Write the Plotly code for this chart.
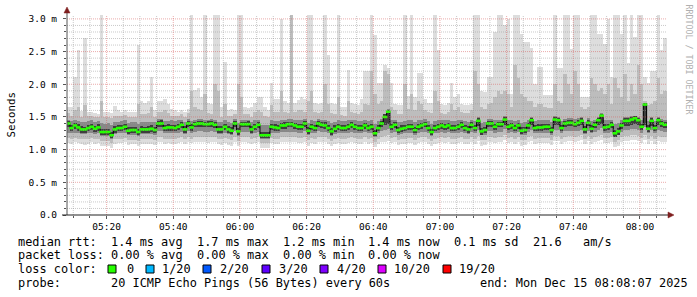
import plotly.graph_objects as go
import pandas as pd

# ---------------- data (values in 1/100 ms) ----------------
bucket_start = "2025-12-15 05:08:00"
view_start = "2025-12-15 05:08:07"
view_end = "2025-12-15 08:08:07"

median = [140,133,137,134,131,131,133,135,132,134,
          127,127,127,122,131,133,133,135,129,130,
          130,127,131,131,131,132,130,140,140,133,
          134,134,133,135,138,131,140,134,139,140,
          140,139,139,140,138,131,131,135,131,129,
          140,128,139,139,139,131,135,138,122,122,
          122,135,134,133,137,137,139,139,137,135,
          135,140,129,135,133,140,138,137,133,128,
          132,135,133,133,135,138,135,133,133,137,
          133,135,125,133,140,150,158,135,138,130,
          132,133,135,135,130,135,137,139,133,127,
          133,135,137,135,137,133,133,135,138,133,
          131,138,133,144,128,130,140,140,135,139,
          139,146,135,137,133,137,129,130,137,145,
          133,134,134,135,135,130,146,145,133,140,
          141,141,139,141,144,131,141,132,138,145,
          152,134,135,138,125,128,137,144,144,146,
          148,145,135,169,132,144,133,145,140,138]

ping_max = [165,165,211,253,159,271,158,158,156,155,
            306,157,157,156,167,160,158,160,158,158,
            158,260,175,172,175,211,160,175,175,178,
            170,162,160,158,160,158,162,306,191,195,
            180,306,172,170,306,306,165,234,160,162,
            160,306,306,165,163,165,172,180,180,165,
            160,202,178,178,300,175,172,306,172,176,
            180,178,306,306,172,170,172,306,245,172,
            170,306,165,165,222,172,170,168,178,220,
            220,306,275,202,202,230,225,202,170,168,
            168,306,182,306,180,217,217,178,172,172,
            306,253,170,168,172,202,180,185,170,168,
            168,170,306,306,190,188,211,211,280,306,
            306,290,300,185,306,306,277,265,265,255,
            200,227,227,184,184,184,306,225,225,306,
            306,254,306,306,181,181,181,306,306,277,
            277,262,300,211,306,306,277,306,232,306,
            273,306,306,211,202,220,220,306,253,271]

ping_hi = [156,152,160,165,150,168,151,152,150,150,
           175,150,150,148,152,152,151,153,150,150,
           150,170,155,154,156,165,150,158,157,160,
           156,152,151,152,154,150,156,190,165,162,
           160,185,156,154,200,190,150,170,152,151,
           155,200,180,155,154,150,158,160,158,152,
           150,168,158,158,190,157,156,306,158,160,
           160,158,175,190,158,156,158,200,170,156,
           155,180,153,152,175,158,156,155,158,170,
           168,220,185,170,175,220,215,165,160,155,
           155,200,162,185,160,175,170,160,158,156,
           190,175,156,155,158,170,160,165,158,156,
           156,160,220,200,165,162,170,172,180,190,
           185,190,185,165,230,210,185,180,175,175,
           165,170,170,165,163,163,200,175,172,215,
           200,185,220,200,165,162,165,210,200,190,
           195,185,200,170,210,195,180,215,175,200,
           185,230,200,175,168,170,175,210,185,190]

core_hi = [146,144,145,144,143,142,144,145,143,144,
           141,140,141,138,142,143,144,145,141,142,
           142,140,142,142,143,143,142,147,147,144,
           144,145,144,145,146,142,147,144,146,147,
           147,146,146,147,146,142,142,145,142,141,
           147,141,146,146,146,142,145,146,138,137,
           138,145,144,144,146,146,147,147,146,145,
           145,147,141,145,144,147,146,146,144,141,
           143,145,144,144,145,146,145,144,144,146,
           144,145,140,144,147,155,162,146,146,142,
           143,144,145,145,142,145,146,147,144,140,
           144,145,146,145,146,144,144,145,146,144,
           143,146,144,150,141,142,147,147,145,146,
           146,151,145,146,144,146,141,142,146,150,
           144,145,145,145,145,142,151,150,144,147,
           148,148,147,148,150,143,148,144,146,150,
           156,145,145,146,140,141,146,150,150,151,
           152,150,145,172,144,150,144,150,147,146]

inner_hi = [144,138,141,139,136,135,138,140,136,139,
            132,131,132,127,136,138,137,140,134,135,
            135,132,136,135,136,137,135,144,145,138,
            139,138,138,140,142,136,144,139,143,144,
            144,143,144,144,142,136,136,140,136,134,
            144,133,143,143,144,136,140,142,127,127,
            127,140,139,138,141,142,143,143,141,140,
            140,144,134,140,138,144,142,142,138,133,
            137,140,138,138,140,142,140,138,138,141,
            138,140,130,138,144,154,161,140,142,135,
            137,138,140,140,135,140,141,143,138,132,
            138,140,141,140,141,138,138,140,142,138,
            136,142,138,148,133,135,144,144,140,143,
            143,150,140,141,138,141,134,135,141,149,
            138,139,139,140,140,135,150,149,138,144,
            145,145,143,145,148,136,145,137,142,149,
            155,139,140,142,130,133,141,148,148,150,
            151,149,140,171,137,148,138,149,144,142]

inner_lo = [135,128,132,129,126,126,128,130,127,129,
            122,123,122,118,126,128,128,130,124,125,
            125,122,126,126,126,127,125,135,134,128,
            129,129,128,130,133,126,135,129,134,135,
            135,134,134,135,133,126,126,130,126,124,
            135,123,134,134,134,126,130,133,118,118,
            118,130,129,128,132,132,134,134,132,130,
            130,135,124,130,128,135,133,132,128,123,
            127,130,128,128,130,133,130,128,128,132,
            128,130,121,128,135,138,140,130,133,125,
            127,128,130,130,125,130,132,134,128,122,
            128,130,132,130,132,128,128,130,133,128,
            126,133,128,136,123,125,135,135,130,134,
            134,138,130,132,128,132,124,125,132,137,
            128,129,129,130,130,125,138,137,128,135,
            136,136,134,136,138,126,136,127,133,137,
            140,129,130,133,120,123,132,136,136,138,
            140,137,130,138,127,136,128,137,135,133]

core_lo = [126,125,126,125,124,124,125,126,124,125,
           121,121,121,117,124,125,125,126,122,123,
           123,121,124,124,124,124,123,128,128,125,
           125,125,125,126,127,124,128,125,127,128,
           128,127,127,128,127,124,124,126,124,122,
           128,121,127,127,127,124,126,127,117,117,
           117,126,125,125,127,127,127,127,127,126,
           126,128,122,126,125,128,127,127,125,121,
           124,126,125,125,126,127,126,125,125,127,
           125,126,120,125,128,130,132,126,127,123,
           124,125,126,126,123,126,127,127,125,121,
           125,126,127,126,127,125,125,126,127,125,
           124,127,125,130,122,123,128,128,126,127,
           127,131,126,127,125,127,122,123,127,130,
           125,126,126,126,126,123,130,130,125,128,
           129,129,128,129,130,124,129,125,127,130,
           133,126,126,127,120,122,127,130,130,131,
           132,130,126,134,125,130,125,130,128,127]

ping_lo = [118,117,118,117,116,116,117,118,116,117,
           113,113,113,110,116,117,117,118,114,115,
           115,113,116,116,116,116,115,120,120,117,
           117,117,117,118,119,116,120,117,119,120,
           120,119,119,120,119,116,116,118,116,114,
           120,113,119,119,119,116,118,119,110,110,
           110,118,117,117,119,119,119,119,119,118,
           118,120,114,118,117,120,119,119,117,113,
           116,118,117,117,118,119,118,117,117,119,
           117,118,112,117,120,121,122,118,119,115,
           116,117,118,118,115,118,119,119,117,113,
           117,118,119,118,119,117,117,118,119,117,
           116,119,117,121,114,115,120,120,118,119,
           119,122,118,119,117,119,114,115,119,121,
           117,118,118,118,118,115,121,121,117,120,
           121,121,120,121,122,116,121,117,119,121,
           123,118,118,119,112,114,119,121,121,122,
           122,121,118,123,117,121,117,121,120,119]

ping_min = [110,109,111,110,108,107,109,111,108,110,
            106,105,106,102,108,110,110,111,107,108,
            108,105,109,108,109,108,107,112,112,109,
            110,109,109,110,112,108,112,110,111,112,
            112,111,110,112,111,108,107,110,107,105,
            112,105,111,111,110,108,110,111,103,102,
            103,110,109,109,111,111,111,112,111,110,
            110,112,106,110,109,112,111,111,109,105,
            108,110,109,109,110,111,110,109,109,111,
            109,110,104,109,112,112,113,110,111,107,
            108,109,110,110,107,110,111,111,109,105,
            109,110,111,110,111,109,109,110,111,109,
            108,111,109,113,106,107,112,112,110,111,
            111,114,110,111,109,111,106,107,111,113,
            109,110,110,110,110,107,113,113,109,112,
            113,113,112,113,114,108,113,109,111,113,
            115,110,110,111,104,106,111,113,113,114,
            114,113,110,115,109,113,109,113,112,111]

y_tick_vals = [0.0, 0.5, 1.0, 1.5, 2.0, 2.5, 3.0]
y_tick_text = ["0.0", "0.5 m", "1.0 m", "1.5 m", "2.0 m", "2.5 m", "3.0 m"]

# legend rows: (character column, text)
legend_row1 = [(0, "median rtt:"), (13, "1.4 ms avg"), (25, "1.7 ms max"), (37, "1.2 ms min"),
               (49, "1.4 ms now"), (61, "0.1 ms sd"), (72, "21.6"), (79, "am/s")]
legend_row2 = [(0, "packet loss:"), (13, "0.00 % avg"), (25, "0.00 % max"), (37, "0.00 % min"),
               (49, "0.00 % now")]
legend_row3 = [(0, "loss color:")]
legend_row4 = [(0, "probe:"), (13, "20 ICMP Echo Pings (56 Bytes) every 60s")]
end_text = "end: Mon Dec 15 08:08:07 2025"
loss_labels = ["0", "1/20", "2/20", "3/20", "4/20", "10/20", "19/20"]
loss_colors = ["#26ff00", "#00b8ff", "#0059ff", "#5e00ff", "#7e00ff", "#dd00ff", "#ff0000"]

# ---------------- layout geometry ----------------
W, H = 697, 297
L, R, T, B = 67, 30, 15, 82
PW, PH = W - L - R, H - T - B
Y_MAX = 3.06
CHAR_W = 7.15


def px(x):
    return (x - L) / PW


def py(y):
    return (H - B - y) / PH


n = len(median)
t0 = pd.Timestamp(bucket_start)
starts = [t0 + pd.Timedelta(minutes=i) for i in range(n)]
centers = [s + pd.Timedelta(seconds=30) for s in starts]


def ms(v):
    return [a / 100.0 for a in v]


def band(lo, hi, color):
    return go.Bar(x=centers, base=ms(lo), y=[(h - l) / 100.0 for l, h in zip(lo, hi)],
                  width=60000, marker=dict(color=color, line=dict(width=0)),
                  hoverinfo="skip", showlegend=False)


fig = go.Figure()
fig.add_trace(band(ping_min, ping_max, "#dddddd"))
fig.add_trace(band(ping_lo, ping_hi, "#bdbdbd"))
fig.add_trace(band(core_lo, core_hi, "#888888"))
fig.add_trace(band(inner_lo, inner_hi, "#3e3e3e"))
fig.add_trace(go.Scatter(x=starts, y=ms(median), mode="lines", line=dict(color="#000000", width=1, shape="hv"),
                         hoverinfo="skip", showlegend=False))
fig.add_trace(go.Scatter(x=centers, y=ms(median), mode="markers",
                         marker=dict(symbol="line-ew", size=3.4, line=dict(color="#26ff00", width=2.6)),
                         hoverinfo="skip", showlegend=False))

shapes = []
# grid (drawn above the smoke, like rrdtool)
minor_col = "rgba(150,150,150,0.5)"
major_col = "rgba(215,90,90,0.5)"
for k in range(1, 31):
    v = k / 10.0
    major = (k % 5 == 0)
    shapes.append(dict(type="line", xref="paper", yref="y", x0=0, x1=1, y0=v, y1=v, layer="above",
                       line=dict(color=major_col if major else minor_col, width=1, dash="1px,1px")))
gt = pd.Timestamp("2025-12-15 05:10:00")
while gt < pd.Timestamp(view_end):
    major = (gt.minute % 20 == 0)
    shapes.append(dict(type="line", xref="x", yref="paper", x0=gt, x1=gt, y0=0, y1=1, layer="above",
                       line=dict(color=major_col if major else minor_col, width=1, dash="1px,1px")))
    gt += pd.Timedelta(minutes=5)

axis_col = "#555555"
arrow_col = "#7f1f1f"
shapes.append(dict(type="line", xref="paper", yref="paper", x0=px(67), x1=px(67), y0=py(215), y1=py(10),
                   line=dict(color=axis_col, width=1)))
shapes.append(dict(type="line", xref="paper", yref="paper", x0=px(62), x1=px(670), y0=py(215), y1=py(215),
                   line=dict(color="#222222", width=1)))
shapes.append(dict(type="path", xref="paper", yref="paper", fillcolor=arrow_col, line=dict(color=arrow_col, width=0.5),
                   path=f"M {px(64)},{py(13)} L {px(70)},{py(13)} L {px(67)},{py(7)} Z"))
shapes.append(dict(type="path", xref="paper", yref="paper", fillcolor=arrow_col, line=dict(color=arrow_col, width=0.5),
                   path=f"M {px(668)},{py(212)} L {px(668)},{py(218)} L {px(674)},{py(215)} Z"))

box_x = [108, 146, 203, 262, 320, 378, 443]
label_x = [125, 160, 218, 277, 335, 392, 457]
for bx, c in zip(box_x, loss_colors):
    shapes.append(dict(type="rect", xref="paper", yref="paper", x0=px(bx), x1=px(bx + 8), y0=py(273), y1=py(265),
                       fillcolor=c, line=dict(color="#000000", width=1)))

mono = "DejaVu Sans Mono"
annotations = []


def text_at(x, y, txt, size=11.9, **kw):
    d = dict(text=txt, xref="paper", yref="paper", x=px(x), y=py(y), xanchor="left", yanchor="middle",
             showarrow=False, font=dict(family=mono, size=size, color=kw.pop("color", "#000000")))
    d.update(kw)
    annotations.append(d)


line_y = [241.5, 255.2, 268.9, 282.6]
for row, yy in zip([legend_row1, legend_row2, legend_row3, legend_row4], line_y):
    for col, txt in row:
        text_at(16 + col * CHAR_W, yy, txt)
for lx, lt in zip(label_x, loss_labels):
    text_at(lx, line_y[2], lt)
text_at(478, line_y[3], end_text)
annotations.append(dict(text="Seconds", xref="paper", yref="paper", x=px(10.5), y=py(115), textangle=-90,
                        xanchor="center", yanchor="middle", showarrow=False,
                        font=dict(family=mono, size=10.8, color="#000000")))
annotations.append(dict(text="RRDTOOL / TOBI OETIKER", xref="paper", yref="paper",
                        x=px(688.5), y=py(59), textangle=90,
                        xanchor="center", yanchor="middle", showarrow=False,
                        font=dict(family=mono, size=8.3, color="#b0b0b0")))

fig.update_layout(
    width=W, height=H, margin=dict(l=L, r=R, t=T, b=B, pad=0),
    paper_bgcolor="#ffffff", plot_bgcolor="#ffffff",
    barmode="overlay", bargap=0, showlegend=False,
    shapes=shapes, annotations=annotations,
    font=dict(family=mono, size=9, color="#000000"),
    xaxis=dict(type="date", range=[view_start, view_end], showgrid=False, zeroline=False,
               tickformat="%H:%M", tick0="2025-12-15 05:00:00", dtick=1200000,
               ticks="outside", ticklen=3, tickcolor=axis_col, showline=False,
               tickfont=dict(family=mono, size=9.5, color="#000000"),
               minor=dict(dtick=300000, ticks="outside", ticklen=2, tickcolor=axis_col, showgrid=False)),
    yaxis=dict(range=[0, Y_MAX], showgrid=False, zeroline=False,
               tickvals=y_tick_vals, ticktext=y_tick_text,
               ticks="outside", ticklen=3, tickcolor=axis_col, showline=False, ticklabelstandoff=4,
               tickfont=dict(family=mono, size=9.5, color="#000000"),
               minor=dict(dtick=0.1, ticks="outside", ticklen=2, tickcolor=axis_col, showgrid=False)),
)

fig.write_html("out.html")
